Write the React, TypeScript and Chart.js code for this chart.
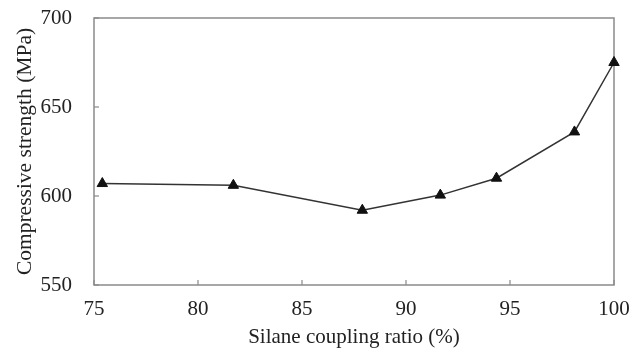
import React, { useEffect, useRef } from "react";
import { Chart, registerables } from "chart.js";

Chart.register(...registerables);

const ratios = [75.4, 81.7, 87.9, 91.65, 94.35, 98.1, 100];
const strength = [607, 606, 592, 600.5, 610, 636, 675];
const xTitle = "Silane coupling ratio (%)";
const yTitle = "Compressive strength (MPa)";

const FONT = "'Liberation Serif', 'Times New Roman', serif";
const AXIS = "#8a8a8a";

const framePlugin = {
  id: "frame",
  beforeDatasetsDraw(chart: any) {
    const { ctx, chartArea: a, scales } = chart;
    ctx.save();
    ctx.strokeStyle = AXIS;
    ctx.lineWidth = 1.5;
    ctx.strokeRect(a.left, a.top, a.right - a.left, a.bottom - a.top);
    ctx.lineWidth = 1.2;
    const x = scales.x;
    x.ticks.forEach((_t: any, i: number) => {
      const px = x.getPixelForTick(i);
      ctx.beginPath();
      ctx.moveTo(px, a.bottom);
      ctx.lineTo(px, a.bottom - 5);
      ctx.stroke();
    });
    const y = scales.y;
    y.ticks.forEach((_t: any, i: number) => {
      const py = y.getPixelForTick(i);
      ctx.beginPath();
      ctx.moveTo(a.left, py);
      ctx.lineTo(a.left + 5, py);
      ctx.stroke();
    });
    ctx.restore();
  },
};

export default function App() {
  const ref = useRef<HTMLCanvasElement>(null);
  useEffect(() => {
    const chart = new Chart(ref.current!, {
      type: "scatter",
      data: {
        datasets: [
          {
            data: ratios.map((r, i) => ({ x: r, y: strength[i] })),
            showLine: true,
            clip: false,
            borderColor: "#333",
            borderWidth: 1.5,
            pointStyle: "triangle",
            pointRadius: 6,
            pointBackgroundColor: "#111",
            pointBorderColor: "#111",
            pointBorderWidth: 1,
          },
        ],
      },
      options: {
        animation: false,
        responsive: false,
        maintainAspectRatio: false,
        layout: { padding: { top: 18, right: 28, left: 0, bottom: 0 } },
        plugins: { legend: { display: false }, tooltip: { enabled: false } },
        scales: {
          x: {
            type: "linear",
            min: 75,
            max: 100,
            ticks: { stepSize: 5, color: "#222", font: { family: FONT, size: 21 }, padding: 12, maxRotation: 0 },
            grid: { display: false, drawTicks: false },
            border: { display: false },
            title: { display: true, text: xTitle, color: "#222", font: { family: FONT, size: 21 }, padding: { top: 2, bottom: 0 } },
            afterFit: (s: any) => { s.height = 65; s.paddingLeft = 0; s.paddingRight = 0; },
          },
          y: {
            min: 550,
            max: 700,
            ticks: { stepSize: 50, color: "#222", font: { family: FONT, size: 21 }, padding: 22 },
            grid: { display: false, drawTicks: false },
            border: { display: false },
            title: { display: true, text: yTitle, color: "#222", font: { family: FONT, size: 21.5 }, padding: { top: 12, bottom: 0 } },
            afterFit: (s: any) => { s.width = 94; s.paddingTop = 0; s.paddingBottom = 0; },
          },
        },
      },
      plugins: [framePlugin],
    });
    return () => chart.destroy();
  }, []);
  return (
    <div style={{ position: "fixed", left: 0, top: 0, width: 642, height: 350, background: "#fff" }}>
      <canvas ref={ref} width={642} height={350} style={{ display: "block" }} />
    </div>
  );
}
